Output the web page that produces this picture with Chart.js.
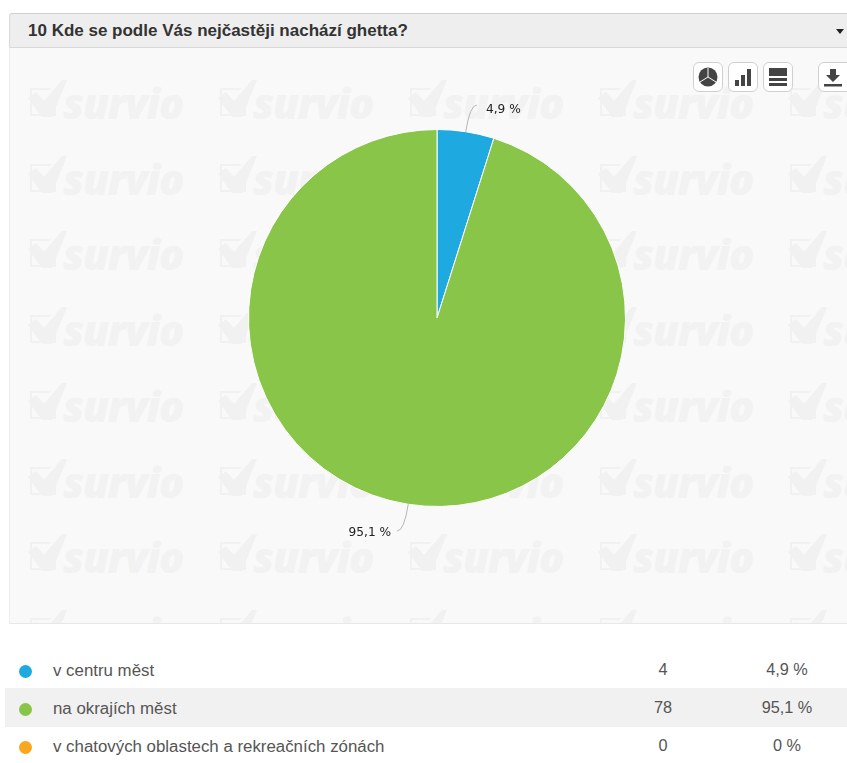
<!DOCTYPE html>
<html>
<head>
<meta charset="utf-8">
<title>10 Kde se podle Vás nejčastěji nachází ghetta?</title>
<script src="https://cdn.jsdelivr.net/npm/chart.js@4"></script>
<style>
html, body { margin: 0; padding: 0; background: #fff; overflow: hidden; }
body { width: 847px; height: 763px; position: relative; font-family: "Liberation Sans", Arial, sans-serif; color: #555; }
#head { position: absolute; left: 9px; top: 13px; width: 838px; height: 33px; background: #eeeeee; border-top: 1px solid #cfcfcf; border-left: 1px solid #d8d8d8; border-bottom: 2px solid #d9d9d9; border-radius: 3px 0 0 3px; box-sizing: content-box; }
#head span { position: absolute; left: 18px; top: 7px; font-size: 17px; font-weight: bold; color: #333; white-space: nowrap; }
#head i { position: absolute; left: 826px; top: 15px; width: 0; height: 0; border-left: 4px solid transparent; border-right: 4px solid transparent; border-top: 5px solid #222; }
#panel { position: absolute; left: 9px; top: 48px; width: 838px; height: 575px; background: #f9f9f9; border-left: 1px solid #eee; border-bottom: 1px solid #e8e8e8; overflow: hidden; }
.wm { position: absolute; width: 170px; height: 50px; color: #f2f2f2; }
.wm b { position: absolute; left: 36px; top: -2px; font-family: "Open Sans", sans-serif; font-size: 42px; font-style: italic; font-weight: 800; line-height: 50px; letter-spacing: -1.2px; }
.wm svg { position: absolute; left: 0; top: 0; }
#chart-wrap { position: absolute; left: 0; top: 0; width: 838px; height: 575px; }
.btn { position: absolute; top: 62px; width: 28px; height: 28px; background: #fff; border: 1px solid #d0d0d0; border-radius: 6px; }
.btn svg { position: absolute; left: 4px; top: 4px; }
.row { position: absolute; left: 5px; width: 842px; height: 39px; font-size: 16.850px; }
.row .dot { position: absolute; left: 14px; top: 14.500px; width: 13px; height: 13px; border-radius: 50%; }
.row .name { position: absolute; left: 48px; top: 11px; white-space: nowrap; }
.row .cnt { position: absolute; left: 608px; width: 100px; top: 10px; text-align: center; font-size: 16.300px; }
.row .pct { position: absolute; left: 732px; width: 100px; top: 10px; text-align: center; font-size: 16.300px; }
</style>
</head>
<body>
<div id="head"><span id="title"></span><i></i></div>
<div id="panel"><div id="wm"></div><div id="chart-wrap"><canvas id="pie"></canvas></div></div>
<div class="btn" style="left:693px"><svg width="20" height="20"><circle cx="10" cy="10" r="9.5" fill="#444"/><path d="M10 10V1M10 10L2 15M10 10L18 15" stroke="#fff" stroke-width="1"/></svg></div>
<div class="btn" style="left:728px"><svg width="20" height="20"><path d="M2 13h4v6H2zM8 8h4v11H8zM14 2h4v17h-4z" fill="#444"/></svg></div>
<div class="btn" style="left:763px"><svg width="20" height="20"><path d="M1 1h18v8H1zM1 11h18v3H1zM1 16h18v3H1z" fill="#444"/></svg></div>
<div class="btn" style="left:818px;width:34px"><svg width="20" height="20"><path d="M7 2h6v6h4l-7 7-7-7h4zM1 17h18v2.500H1z" fill="#444"/></svg></div>
<div id="rows"></div>

<script>
const title = "10 Kde se podle Vás nejčastěji nachází ghetta?"
const categories = ["v centru měst", "na okrajích měst", "v chatových oblastech a rekreačních zónách"]
const counts = [4, 78, 0]
const percentLabels = ["4,9 %", "95,1 %", "0 %"]
const colors = ["#1fa9e1", "#88c548", "#faa61f"]

document.getElementById('title').textContent = title

// watermark
let wm = ""
for (let r = 0; r < 8; r++) {
    for (let c = 0; c < 5; c++) {
        const x = 17 + c * 190
        const y = 32 + r * 75.7
        wm += `<div class="wm" style="left:${x}px;top:${y}px">
                <svg width="42" height="40" viewBox="-3 0 42 40"><path d="M0 8h22l-3 2H2v24h22V20l2-3v19H0z" fill="#f1f1f1"/><path d="M-2 18L6 12l8 9L32 0h5L22 37H12z" fill="#f1f1f1"/></svg>
                <b>survio</b></div>`
    }
}
document.getElementById('wm').innerHTML = wm

// rows under the chart
let body = ""
for (let i = 0; i < categories.length; i++) {
    const top = 650 + i * 38
    const bg = i === 1 ? "background:#f1f1f1;" : ""
    body += `<div class="row" style="top:${top}px;${bg}">
                <span class="dot" style="background:${colors[i]}"></span>
                <span class="name">${categories[i]}</span>
                <span class="cnt">${counts[i]}</span>
                <span class="pct">${percentLabels[i]}</span>
            </div>`
}
document.getElementById('rows').innerHTML = body

// popisky s vodici carou
const sliceLabels = {
    id: 'sliceLabels',
    afterDatasetsDraw(chart) {
        const ctx = chart.ctx
        chart.getDatasetMeta(0).data.forEach((arc, i) => {
            if (!counts[i]) return
            const mid = (arc.startAngle + arc.endAngle) / 2
            const r = arc.outerRadius
            const sx = arc.x + Math.cos(mid) * r
            const sy = arc.y + Math.sin(mid) * r
            const ex = arc.x + Math.cos(mid) * (r + 27)
            const ey = arc.y + Math.sin(mid) * (r + 27)
            const dir = Math.cos(mid) >= 0 ? 1 : -1
            ctx.save()
            ctx.strokeStyle = "#b5b5b5"
            ctx.lineWidth = 1
            ctx.beginPath()
            ctx.moveTo(sx, sy)
            ctx.quadraticCurveTo(ex, ey, ex + dir * 7, ey)
            ctx.stroke()
            ctx.fillStyle = "#222"
            ctx.font = '12.2px "DejaVu Sans"'
            ctx.textAlign = dir > 0 ? "left" : "right"
            ctx.textBaseline = "middle"
            ctx.fillText(percentLabels[i], ex + (dir > 0 ? 16 : -13), ey + (dir > 0 ? 4.5 : 2))
            ctx.restore()
        })
    }
}

new Chart(document.getElementById('pie'), {
    type: 'pie',
    data: {
        labels: categories,
        datasets: [{
            data: counts,
            backgroundColor: colors,
            borderColor: "#ffffff",
            borderWidth: 1
        }]
    },
    options: {
        responsive: true,
        maintainAspectRatio: false,
        animation: false,
        layout: { padding: { top: 81, bottom: 116, left: 16, right: 0 } },
        plugins: { legend: { display: false }, tooltip: { enabled: false } }
    },
    plugins: [sliceLabels]
})
</script>
</body>
</html>
